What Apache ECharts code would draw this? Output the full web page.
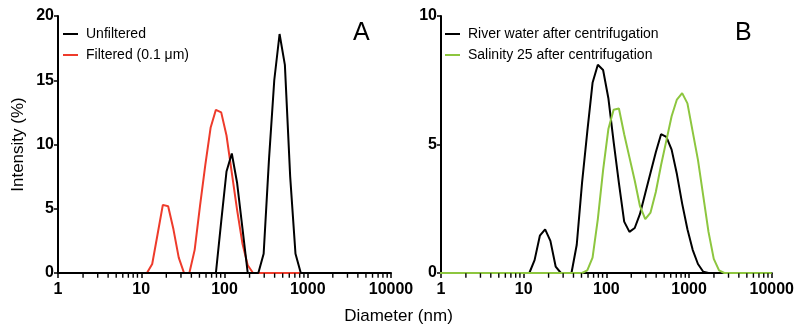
<!DOCTYPE html>
<html>
<head>
<meta charset="utf-8">
<script src="https://cdn.jsdelivr.net/npm/echarts@6/dist/echarts.min.js"></script>
<style>
html,body{margin:0;padding:0;background:#fff;}
#chart{width:797px;height:327px;}
</style>
</head>
<body>
<div id="chart"></div>
<script>
// Size bins (nm)
const sizes = [0.9649,1.117,1.294,1.499,1.736,2.01,2.328,2.696,3.122,3.615,4.187,4.849,5.615,6.503,7.531,8.721,
  10.1,11.7,13.54,15.69,18.17,21.04,24.36,28.21,32.67,37.84,43.82,50.75,58.77,68.06,78.82,91.28,
  105.7,122.4,141.8,164.2,190.1,220.2,255.0,295.3,342.0,396.1,458.7,531.2,615.1,712.4,825.0,955.4,
  1106,1281,1484,1718,1990,2305,2669,3091,3580,4145,4801,5560,6439,7456,8635,10000];

// Panel A
const unfiltered = [0,0,0,0,0,0,0,0,0,0,0,0,0,0,0,0,
  0,0,0,0,0,0,0,0,0,0,0,0,0,0,0,4.0,
  7.9,9.3,7.0,3.5,0,0,0,1.5,8.8,15.0,18.6,16.2,7.5,1.5,0,0,
  0,0,0,0,0,0,0,0,0,0,0,0,0,0,0,0];
const filtered = [null,null,null,null,null,null,null,null,null,null,null,null,null,null,null,null,
  0,0,0.7,3.0,5.3,5.2,3.4,1.2,0,0,1.8,5.2,8.4,11.3,12.7,12.5,
  10.7,7.8,4.9,2.3,0.6,0,0,0,0,0,0,0,0,0,0,null,
  null,null,null,null,null,null,null,null,null,null,null,null,null,null,null,null];

// Panel B
const river = [null,null,null,null,null,null,null,null,null,null,null,null,null,null,null,null,
  null,0,0.5,1.45,1.7,1.25,0.25,0,0,0,1.1,3.5,5.5,7.4,8.1,7.9,
  6.8,5.1,3.5,2.0,1.6,1.75,2.3,3.1,3.9,4.7,5.4,5.3,4.8,3.85,2.7,1.7,
  0.9,0.35,0.05,0,0,0,0,null,null,null,null,null,null,null,null,null];
const salinity = [0,0,0,0,0,0,0,0,0,0,0,0,0,0,0,0,
  0,0,0,0,0,0,0,0,0,0,0,0,0.1,0.6,2.1,4.0,
  5.6,6.35,6.4,5.4,4.5,3.6,2.6,2.1,2.35,3.15,4.2,5.15,6.1,6.75,7.0,6.6,
  5.5,4.4,3.0,1.6,0.55,0.1,0,0,0,0,0,0,0,0,0,0];

const seriesNamesA = ['Unfiltered', 'Filtered (0.1 \u03bcm)'];
const seriesNamesB = ['River water after centrifugation', 'Salinity 25 after centrifugation'];
const xMajorTicks = [1, 10, 100, 1000, 10000];
const minorMultipliers = [2, 3, 4, 5, 6, 7, 8, 9];
const yTicksA = [0, 5, 10, 15, 20];
const yTicksB = [0, 5, 10];

function pairs(vals) {
  const out = [];
  for (let i = 0; i < sizes.length; i++) if (vals[i] !== null) out.push([sizes[i], vals[i]]);
  return out;
}
const minorTickData = [];
for (let k = 0; k < xMajorTicks.length - 1; k++)
  for (const m of minorMultipliers) minorTickData.push([xMajorTicks[k] * m, 0]);

const FONT = 'Liberation Sans, Arial, sans-serif';
const grids = [
  {left: 58, right: 406, top: 16, bottom: 54},
  {left: 441, right: 25, top: 16, bottom: 54}
];
function mainX(gi) {
  return {
    type: 'log', logBase: 10, gridIndex: gi, min: 1, max: 10000, position: 'bottom',
    axisLine: {show: true, lineStyle: {color: '#000', width: 2}},
    axisTick: {show: true, length: 5, lineStyle: {color: '#000', width: 1.5}},
    axisLabel: {show: true, color: '#000', fontFamily: FONT, fontWeight: 'bold', fontSize: 16, margin: 9,
      formatter: function (v) { return String(Math.round(v)); }},
    splitLine: {show: false}
  };
}
function yAx(gi, max, ticks, name) {
  return {
    type: 'value', gridIndex: gi, min: 0, max: max, interval: 5,
    name: name, nameLocation: 'middle', nameGap: 31,
    nameTextStyle: {color: '#000', fontFamily: FONT, fontSize: 17},
    axisLine: {show: true, lineStyle: {color: '#000', width: 2}},
    axisTick: {show: true, length: 4, lineStyle: {color: '#000', width: 1.5}},
    axisLabel: {color: '#000', fontFamily: FONT, fontWeight: 'bold', fontSize: 16, margin: 4},
    splitLine: {show: false}
  };
}
function line(name, vals, color, xi, yi, z) {
  return {
    name: name, type: 'line', xAxisIndex: xi, yAxisIndex: yi, data: pairs(vals),
    showSymbol: false, symbol: 'none', z: z,
    lineStyle: {color: color, width: 2}, itemStyle: {color: color}, animation: false
  };
}
function minorTicks(gi) {
  return {
    name: 'minor' + gi,
    type: 'scatter', xAxisIndex: gi, yAxisIndex: gi, data: minorTickData, silent: true, clip: false,
    symbol: 'rect', symbolSize: [1.4, 4.5], symbolOffset: [0, 2.5], z: 10,
    itemStyle: {color: '#000', opacity: 1}, animation: false
  };
}
const legendCommon = {orient: 'vertical', top: 22, icon: 'rect', itemWidth: 15, itemHeight: 2, itemGap: 7,
  textStyle: {fontFamily: FONT, fontSize: 14, color: '#000', padding: [0, 0, 0, 3]}};

const chart = echarts.init(document.getElementById('chart'), null, {renderer: 'canvas'});
chart.setOption({
  animation: false,
  backgroundColor: '#fff',
  grid: grids,
  xAxis: [mainX(0), mainX(1)],
  yAxis: [yAx(0, 20, yTicksA, 'Intensity (%)'), yAx(1, 10, yTicksB, '')],
  title: [
    {text: 'A', left: 348, top: 16, textStyle: {fontFamily: FONT, fontSize: 25, fontWeight: 'normal', color: '#000'}},
    {text: 'B', left: 730, top: 16, textStyle: {fontFamily: FONT, fontSize: 25, fontWeight: 'normal', color: '#000'}}
  ],
  legend: [
    Object.assign({data: seriesNamesA, left: 58}, legendCommon),
    Object.assign({data: seriesNamesB, left: 440}, legendCommon)
  ],
  graphic: [
    {type: 'text', left: 'center', top: 308, style: {text: 'Diameter (nm)', fontFamily: FONT, fontSize: 17, fill: '#000'}}
  ],
  series: [
    line(seriesNamesA[1], filtered, '#EE3B2B', 0, 0, 2),
    line(seriesNamesA[0], unfiltered, '#000000', 0, 0, 3),
    line(seriesNamesB[0], river, '#000000', 1, 1, 2),
    line(seriesNamesB[1], salinity, '#8DC63F', 1, 1, 3),
    minorTicks(0),
    minorTicks(1)
  ]
});
</script>
</body>
</html>
